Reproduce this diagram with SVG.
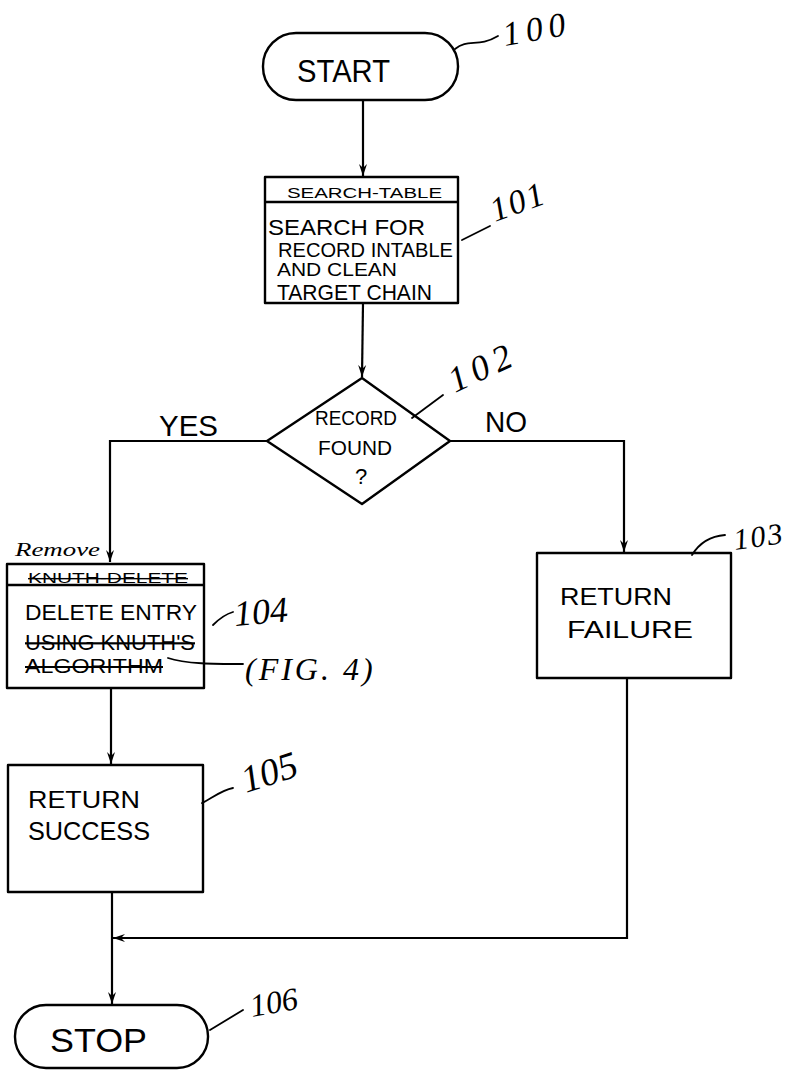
<svg xmlns="http://www.w3.org/2000/svg" width="804" height="1072" viewBox="0 0 804 1072">
<style>
.shape{fill:none;stroke:#000;stroke-width:2.4;stroke-linejoin:round}
.conn{fill:none;stroke:#000;stroke-width:2.2}
.lead{fill:none;stroke:#000;stroke-width:1.8;stroke-linecap:round}
.t{font-family:"Liberation Sans",Arial,sans-serif;fill:#000}
.ref{font-family:"Liberation Serif","Times New Roman",serif;font-style:italic;fill:#000}
.strike{text-decoration:line-through}
</style>
<defs>
<marker id="arr" viewBox="0 0 12 10" refX="12" refY="5" markerWidth="12" markerHeight="10" markerUnits="userSpaceOnUse" orient="auto">
<path d="M0,1 L12,5 L0,9 L4,5 Z" fill="#000"/>
</marker>
</defs>
<rect width="804" height="1072" fill="#fff"/>

<g id="connectors">
<path class="conn" d="M363,100 L363,176" marker-end="url(#arr)"/>
<path class="conn" d="M363,303 L362,377" marker-end="url(#arr)"/>
<path class="conn" d="M267,441 L110,441 L110,562" marker-end="url(#arr)"/>
<path class="conn" d="M450,441 L624,441 L624,552" marker-end="url(#arr)"/>
<path class="conn" d="M111,688 L111,764" marker-end="url(#arr)"/>
<path class="conn" d="M112,892 L112,1004" marker-end="url(#arr)"/>
<path class="conn" d="M627,678 L627,938 L113,938" marker-end="url(#arr)"/>
<text class="t" x="159" y="436" font-size="30" textLength="59" lengthAdjust="spacingAndGlyphs">YES</text>
<text class="t" x="485" y="432" font-size="29" textLength="42" lengthAdjust="spacingAndGlyphs">NO</text>
</g>

<g id="n100">
<rect class="shape" x="263" y="33" width="195" height="67" rx="33" ry="33"/>
<text class="t" x="297" y="82" font-size="32" textLength="93" lengthAdjust="spacingAndGlyphs">START</text>
<path class="lead" d="M455,49 C468,38 478,48 498,36"/>
<text class="ref" x="0" y="0" font-size="34" letter-spacing="6" transform="translate(505,46) rotate(-10)">100</text>
</g>

<g id="n101">
<rect class="shape" x="265" y="177" width="193" height="126"/>
<line class="shape" x1="265" y1="202" x2="458" y2="202"/>
<text class="t" x="287" y="198" font-size="15" textLength="155" lengthAdjust="spacingAndGlyphs">SEARCH-TABLE</text>
<text class="t" x="268" y="235" font-size="22" textLength="157" lengthAdjust="spacingAndGlyphs">SEARCH FOR</text>
<text class="t" x="278" y="257" font-size="20" textLength="175" lengthAdjust="spacingAndGlyphs">RECORD INTABLE</text>
<text class="t" x="277" y="276" font-size="18" textLength="120" lengthAdjust="spacingAndGlyphs">AND CLEAN</text>
<text class="t" x="277" y="300" font-size="22" textLength="155" lengthAdjust="spacingAndGlyphs">TARGET CHAIN</text>
<path class="lead" d="M462,240 L490,226"/>
<text class="ref" x="0" y="0" font-size="34" letter-spacing="2" transform="translate(495,222) rotate(-20)">101</text>
</g>

<g id="n102">
<path class="shape" d="M362,378 L450,441 L362,504 L267,441 Z"/>
<text class="t" x="315" y="425" font-size="20" textLength="82" lengthAdjust="spacingAndGlyphs">RECORD</text>
<text class="t" x="318" y="455" font-size="20" textLength="74" lengthAdjust="spacingAndGlyphs">FOUND</text>
<text class="t" x="355" y="484" font-size="22">?</text>
<path class="lead" d="M412,418 L443,395"/>
<text class="ref" x="0" y="0" font-size="36" letter-spacing="6" transform="translate(455,393) rotate(-25)">102</text>
</g>

<g id="n103">
<rect class="shape" x="537" y="553" width="194" height="125"/>
<text class="t" x="560" y="605" font-size="24" textLength="112" lengthAdjust="spacingAndGlyphs">RETURN</text>
<text class="t" x="567" y="638" font-size="24" textLength="126" lengthAdjust="spacingAndGlyphs">FAILURE</text>
<path class="lead" d="M692,555 C700,542 712,536 725,535"/>
<text class="ref" x="0" y="0" font-size="30" letter-spacing="2" transform="translate(735,550) rotate(-8)">103</text>
</g>

<g id="n104">
<text class="ref" x="15" y="556" font-size="18" textLength="85" lengthAdjust="spacingAndGlyphs">Remove</text>
<rect class="shape" x="7" y="564" width="197" height="124"/>
<line class="shape" x1="7" y1="585" x2="204" y2="585"/>
<text class="t strike" x="28" y="583" font-size="14" textLength="160" lengthAdjust="spacingAndGlyphs">KNUTH-DELETE</text>
<text class="t" x="25" y="620" font-size="22" textLength="172" lengthAdjust="spacingAndGlyphs">DELETE ENTRY</text>
<text class="t strike" x="25" y="650" font-size="22" textLength="170" lengthAdjust="spacingAndGlyphs">USING KNUTH'S</text>
<text class="t strike" x="25" y="673" font-size="20" textLength="138" lengthAdjust="spacingAndGlyphs">ALGORITHM</text>
<path class="lead" d="M213,625 C220,618 226,614 233,612"/>
<text class="ref" x="0" y="0" font-size="36" transform="translate(235,626) rotate(-5)">104</text>
<path class="lead" d="M168,658 C185,664 215,664 243,664"/>
<text class="ref" x="245" y="680" font-size="32" letter-spacing="3">(FIG. 4)</text>
</g>

<g id="n105">
<rect class="shape" x="8" y="765" width="195" height="127"/>
<text class="t" x="28" y="808" font-size="24" textLength="112" lengthAdjust="spacingAndGlyphs">RETURN</text>
<text class="t" x="28" y="840" font-size="26" textLength="122" lengthAdjust="spacingAndGlyphs">SUCCESS</text>
<path class="lead" d="M202,803 C212,798 222,790 233,788"/>
<text class="ref" x="0" y="0" font-size="38" transform="translate(246,793) rotate(-18)">105</text>
</g>

<g id="n106">
<rect class="shape" x="15" y="1005" width="193" height="63" rx="31" ry="31"/>
<text class="t" x="50" y="1052" font-size="33" textLength="97" lengthAdjust="spacingAndGlyphs">STOP</text>
<path class="lead" d="M210,1030 L243,1010"/>
<text class="ref" x="0" y="0" font-size="32" transform="translate(252,1017) rotate(-10)">106</text>
</g>
</svg>
